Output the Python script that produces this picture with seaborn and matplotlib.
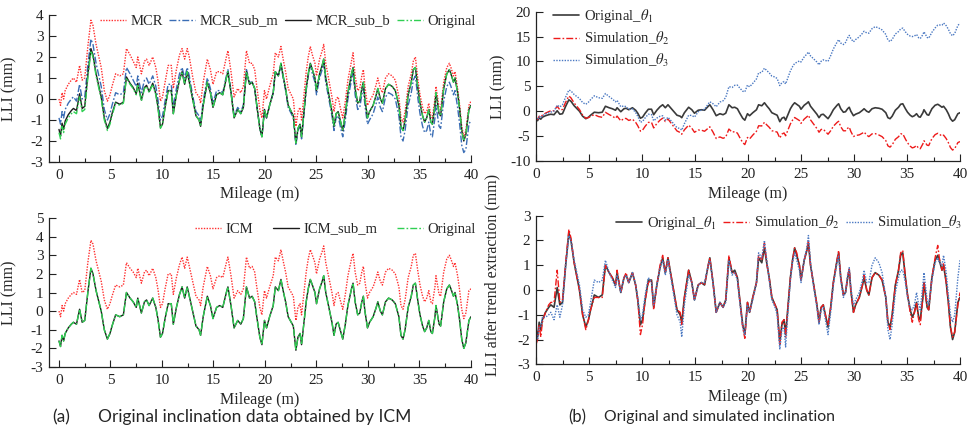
import matplotlib
matplotlib.use("Agg")
import matplotlib.pyplot as plt
from matplotlib.ticker import MultipleLocator
import pandas as pd
import seaborn as sns

# ---------------- data ----------------
mileage = [
    0.0, 0.15, 0.3, 0.45, 0.6, 0.9, 1.2, 1.4, 1.7, 2.0,
    2.25, 2.5, 2.8, 3.1, 3.3, 3.6, 4.1, 4.4, 4.7, 4.95,
    5.15, 5.5, 5.9, 6.25, 6.55, 6.9, 7.2, 7.5, 7.65, 8.0,
    8.3, 8.5, 8.75, 9.1, 9.4, 9.6, 9.85, 10.05, 10.3, 10.6,
    10.9, 11.1, 11.4, 11.7, 11.95, 12.2, 12.45, 12.65, 13.0, 13.3,
    13.6, 13.75, 14.0, 14.4, 14.7, 14.95, 15.3, 15.6, 15.9, 16.25,
    16.4, 16.7, 17.0, 17.35, 17.65, 17.9, 18.2, 18.5, 18.75, 19.0,
    19.2, 19.5, 19.7, 19.95, 20.15, 20.45, 20.8, 21.0, 21.3, 21.55,
    21.8, 22.0, 22.25, 22.55, 22.75, 23.0, 23.2, 23.4, 23.55, 23.75,
    24.0, 24.2, 24.4, 24.6, 24.85, 25.0, 25.3, 25.55, 25.7, 25.9,
    26.2, 26.5, 26.7, 26.9, 27.1, 27.35, 27.55, 27.8, 28.05, 28.4,
    28.55, 28.75, 29.0, 29.2, 29.4, 29.55, 29.7, 29.95, 30.15, 30.5,
    30.8, 30.95, 31.2, 31.4, 31.7, 32.0, 32.35, 32.65, 33.0, 33.2,
    33.4, 33.6, 33.9, 34.2, 34.4, 34.6, 34.85, 35.05, 35.3, 35.5,
    35.7, 35.9, 36.1, 36.25, 36.5, 36.6, 36.9, 37.05, 37.35, 37.65,
    37.9, 38.05, 38.3, 38.45, 38.7, 38.9, 39.1, 39.3, 39.5, 39.8,
    40.0]

# Original LLI (also ICM_sub_m and Original_theta1)
original = [
    -1.6, -1.9, -1.3, -1.6, -1.2, -0.9, -0.7, -0.6, -0.7, 0.1,
    -0.6, -0.5, 1.0, 2.3, 2.0, 1.1, 0.0, -1.0, -1.5, -1.2,
    -0.8, -0.2, -0.3, -0.2, 1.0, 0.7, 0.5, 0.2, 0.7, -0.1,
    0.5, 0.6, 0.3, 0.7, 0.2, -0.4, -1.4, -1.2, -0.4, 0.4,
    0.4, -0.7, 0.2, 0.9, 1.3, 0.7, 1.3, 0.8, -0.1, -0.8,
    -1.0, -1.3, -0.3, 0.8, 0.3, -0.4, 0.2, 0.3, 0.2, 1.0,
    1.3, 0.3, -0.9, -0.5, -0.7, -0.4, 1.3, 0.7, 0.8, 0.5,
    -0.3, -1.4, -1.8, -0.5, -0.9, -0.3, 0.3, 1.3, 1.1, 1.7,
    1.0, 0.5, -0.3, -0.6, -0.8, -2.1, -1.4, -1.2, -1.8, -0.8,
    0.5, 1.2, 1.7, 1.4, 1.0, 0.4, 1.2, 1.6, 1.9, 1.0,
    0.2, -0.6, -1.3, -0.7, -0.6, -1.1, -1.5, -0.7, 0.3, 1.2,
    1.5, 0.5, -0.2, -0.1, 0.5, 0.8, 0.0, -0.9, -0.6, -0.3,
    0.2, 0.5, 0.0, -0.2, 0.5, 0.7, 0.6, 0.4, -0.3, -1.3,
    -1.5, -1.0, 0.2, 0.8, 1.4, 1.5, 0.5, -0.2, -0.8, -1.1,
    -0.9, -0.5, -1.1, -1.2, -0.3, 0.3, -0.7, -0.8, 0.5, 1.2,
    1.4, 1.2, 0.8, 1.0, 0.3, -0.5, -1.5, -2.0, -1.7, -0.5,
    -0.3]

mcr = [
    0.0, -0.3, 0.3, 0.0, 0.4, 0.7, 0.9, 1.0, 0.8, 1.6,
    0.9, 1.0, 2.5, 3.75, 3.5, 2.6, 1.5, 0.4, -0.1, 0.2,
    0.6, 1.2, 1.1, 1.2, 2.4, 2.1, 1.8, 1.5, 2.0, 1.2,
    1.8, 1.9, 1.6, 2.0, 1.5, 0.9, -0.1, 0.1, 0.8, 1.6,
    1.6, 0.5, 1.4, 2.1, 2.4, 1.9, 2.4, 2.0, 1.0, 0.3,
    0.1, -0.2, 0.8, 1.9, 1.4, 0.7, 1.3, 1.3, 1.2, 2.0,
    2.3, 1.3, 0.1, 0.5, 0.3, 0.6, 2.3, 1.7, 1.7, 1.4,
    0.6, -0.5, -0.9, 0.4, 0.0, 0.6, 1.2, 2.2, 2.0, 2.5,
    1.8, 1.3, 0.5, 0.2, 0.0, -1.3, -0.6, -0.4, -1.0, 0.0,
    1.3, 2.0, 2.5, 2.1, 1.7, 1.1, 1.9, 2.3, 2.6, 1.7,
    0.9, 0.1, -0.6, 0.0, 0.1, -0.5, -0.9, -0.1, 0.9, 1.8,
    2.2, 1.1, 0.4, 0.5, 1.1, 1.4, 0.6, -0.3, -0.1, 0.2,
    0.7, 1.0, 0.5, 0.3, 1.0, 1.2, 1.1, 0.9, 0.1, -0.9,
    -1.1, -0.6, 0.6, 1.2, 1.8, 2.0, 0.9, 0.2, -0.4, -0.7,
    -0.6, -0.2, -0.8, -0.9, 0.0, 0.6, -0.4, -0.5, 0.8, 1.5,
    1.7, 1.5, 1.1, 1.3, 0.5, -0.3, -1.3, -1.8, -1.5, -0.3,
    -0.1]

mcr_sub_m = [
    -0.9, -1.2, -0.6, -0.9, -0.5, -0.2, 0.0, 0.1, -0.1, 0.7,
    0.0, 0.1, 1.6, 2.85, 2.6, 1.7, 0.6, -0.5, -1.0, -0.7,
    -0.3, 0.3, 0.2, 0.3, 1.5, 1.2, 0.9, 0.6, 1.1, 0.3,
    0.9, 1.0, 0.7, 1.1, 0.6, 0.0, -1.0, -0.8, -0.1, 0.7,
    0.7, -0.4, 0.5, 1.2, 1.5, 1.0, 1.5, 1.1, 0.1, -0.6,
    -0.8, -1.1, -0.1, 1.0, 0.5, -0.2, 0.4, 0.4, 0.3, 1.1,
    1.4, 0.4, -0.8, -0.4, -0.6, -0.3, 1.4, 0.8, 0.8, 0.5,
    -0.3, -1.4, -1.8, -0.5, -0.9, -0.3, 0.3, 1.3, 1.1, 1.6,
    0.9, 0.4, -0.4, -0.7, -0.9, -2.2, -1.5, -1.3, -1.9, -0.9,
    0.4, 1.1, 1.6, 1.2, 0.8, 0.2, 1.0, 1.4, 1.7, 0.8,
    0.0, -0.8, -1.5, -0.9, -0.8, -1.4, -1.8, -1.0, 0.0, 0.9,
    1.3, 0.2, -0.5, -0.4, 0.2, 0.5, -0.3, -1.2, -1.0, -0.7,
    -0.2, 0.1, -0.4, -0.6, 0.1, 0.3, 0.2, 0.0, -0.8, -1.8,
    -2.0, -1.5, -0.3, 0.3, 0.9, 1.1, 0.0, -0.7, -1.3, -1.6,
    -1.5, -1.1, -1.7, -1.8, -0.9, -0.3, -1.3, -1.4, -0.1, 0.6,
    0.8, 0.6, 0.2, 0.4, -0.4, -1.2, -2.2, -2.55, -2.4, -1.2,
    -1.0]

mcr_sub_b = [
    -1.45, -1.75, -1.15, -1.45, -1.05, -0.75, -0.55, -0.45, -0.55, 0.25,
    -0.45, -0.35, 1.15, 2.4, 2.1, 1.2, 0.1, -0.9, -1.4, -1.1,
    -0.7, -0.15, -0.25, -0.15, 1.05, 0.75, 0.55, 0.25, 0.75, -0.05,
    0.55, 0.65, 0.35, 0.75, 0.25, -0.35, -1.35, -1.2, -0.4, 0.4,
    0.4, -0.7, 0.2, 0.9, 1.3, 0.7, 1.3, 0.8, -0.1, -0.8,
    -1.0, -1.3, -0.3, 0.8, 0.3, -0.4, 0.2, 0.3, 0.2, 1.0,
    1.3, 0.3, -0.9, -0.5, -0.7, -0.4, 1.3, 0.7, 0.8, 0.5,
    -0.3, -1.4, -1.8, -0.5, -0.9, -0.3, 0.3, 1.3, 1.1, 1.7,
    1.0, 0.5, -0.3, -0.6, -0.8, -2.1, -1.4, -1.2, -1.8, -0.8,
    0.5, 1.2, 1.7, 1.4, 1.0, 0.4, 1.2, 1.6, 1.9, 1.0,
    0.2, -0.6, -1.3, -0.7, -0.6, -1.1, -1.5, -0.7, 0.3, 1.2,
    1.5, 0.5, -0.2, -0.1, 0.5, 0.8, 0.0, -0.9, -0.6, -0.3,
    0.2, 0.5, 0.0, -0.2, 0.5, 0.7, 0.6, 0.4, -0.3, -1.3,
    -1.5, -1.0, 0.2, 0.8, 1.4, 1.5, 0.5, -0.2, -0.8, -1.1,
    -0.9, -0.5, -1.1, -1.2, -0.3, 0.3, -0.7, -0.8, 0.5, 1.2,
    1.4, 1.2, 0.8, 1.0, 0.3, -0.5, -1.5, -2.0, -1.7, -0.5,
    -0.3]

icm = [
    0.0, -0.3, 0.3, 0.0, 0.4, 0.7, 0.9, 1.0, 0.9, 1.7,
    1.0, 1.1, 2.6, 3.8, 3.6, 2.7, 1.6, 0.6, 0.1, 0.4,
    0.8, 1.4, 1.3, 1.4, 2.6, 2.3, 2.1, 1.8, 2.3, 1.5,
    2.1, 2.2, 1.9, 2.3, 1.8, 1.2, 0.2, 0.4, 1.2, 2.0,
    2.0, 0.9, 1.8, 2.5, 2.9, 2.3, 2.9, 2.4, 1.5, 0.8,
    0.6, 0.3, 1.3, 2.4, 1.9, 1.2, 1.8, 1.9, 1.8, 2.6,
    2.9, 1.9, 0.7, 1.1, 0.9, 1.2, 2.9, 2.3, 2.4, 2.1,
    1.3, 0.2, -0.2, 1.1, 0.7, 1.3, 1.9, 2.9, 2.7, 3.3,
    2.6, 2.1, 1.3, 1.0, 0.8, -0.5, 0.2, 0.4, -0.2, 0.8,
    2.1, 2.8, 3.3, 3.0, 2.6, 2.0, 2.8, 3.2, 3.5, 2.6,
    1.8, 1.0, 0.3, 0.9, 1.0, 0.5, 0.1, 0.9, 1.9, 2.8,
    3.1, 2.1, 1.4, 1.5, 2.1, 2.4, 1.6, 0.7, 1.0, 1.3,
    1.8, 2.1, 1.6, 1.4, 2.1, 2.3, 2.2, 2.0, 1.3, 0.3,
    0.1, 0.6, 1.8, 2.4, 3.0, 3.1, 2.1, 1.4, 0.8, 0.5,
    0.7, 1.1, 0.5, 0.4, 1.3, 1.9, 0.9, 0.8, 2.1, 2.8,
    3.0, 2.8, 2.4, 2.6, 1.9, 1.1, 0.1, -0.4, -0.1, 1.1,
    1.2]

sim_theta2 = [
    -1.4, -1.65, -1.0, -1.24, -0.79, -0.38, -0.08, 0.09, 0.1, 1.0,
    0.28, 0.35, 1.82, 3.06, 2.68, 1.65, 0.35, -0.78, -1.4, -1.28,
    -1.02, -0.68, -1.07, -1.22, -0.22, -0.67, -0.99, -1.42, -0.98, -1.94,
    -1.46, -1.45, -1.85, -1.6, -2.23, -2.92, -4.0, -3.81, -3.02, -2.24,
    -2.25, -3.36, -2.47, -1.79, -1.4, -2.07, -1.56, -2.13, -3.15, -3.96,
    -4.27, -4.62, -3.73, -2.8, -3.42, -4.23, -3.78, -3.8, -4.03, -3.38,
    -3.13, -4.2, -5.48, -5.16, -5.44, -5.2, -3.58, -4.2, -4.1, -4.4,
    -5.2, -6.3, -6.7, -5.27, -5.56, -4.8, -4.02, -2.92, -2.96, -2.23,
    -2.81, -3.22, -3.91, -4.08, -4.19, -5.39, -4.6, -4.36, -4.93, -3.89,
    -2.54, -1.8, -1.26, -1.52, -1.87, -2.44, -1.58, -1.13, -0.8, -1.74,
    -2.61, -3.48, -4.22, -3.66, -3.61, -4.17, -4.62, -3.92, -3.02, -2.26,
    -2.02, -3.12, -3.93, -3.93, -3.42, -3.19, -4.06, -5.08, -4.88, -4.75,
    -4.4, -4.18, -4.8, -5.1, -4.55, -4.5, -4.78, -5.11, -5.9, -6.96,
    -7.21, -6.76, -5.64, -5.12, -4.57, -4.53, -5.59, -6.35, -7.01, -7.37,
    -7.22, -6.87, -7.47, -7.53, -6.55, -5.92, -6.83, -6.89, -5.5, -4.71,
    -4.43, -4.6, -5.0, -4.8, -5.5, -6.3, -7.3, -7.8, -7.5, -6.3,
    -6.1]

sim_theta3 = [
    -1.4, -1.68, -1.05, -1.33, -0.9, -0.55, -0.3, -0.17, 0.02, 1.22,
    0.86, 1.3, 2.86, 4.26, 4.08, 3.36, 2.56, 1.74, 1.4, 1.83,
    2.33, 3.1, 2.72, 2.58, 3.56, 2.94, 2.47, 1.9, 2.19, 0.9,
    1.08, 0.9, 0.39, 0.49, -0.26, -1.03, -2.21, -2.06, -1.32, -0.6,
    -0.68, -1.92, -1.37, -1.02, -0.91, -1.8, -1.2, -1.7, -2.6, -3.3,
    -3.5, -3.8, -2.5, -0.8, -0.85, -1.18, -0.12, 0.23, 0.38, 1.48,
    1.9, 1.5, 0.9, 1.84, 2.1, 2.78, 4.95, 4.77, 5.21, 5.25,
    4.72, 4.03, 3.9, 5.26, 4.91, 5.59, 6.5, 7.7, 7.8, 8.65,
    8.11, 7.72, 7.06, 6.88, 6.57, 5.15, 5.75, 5.97, 5.48, 6.63,
    8.11, 8.95, 9.6, 9.83, 10.1, 9.9, 10.91, 11.49, 11.9, 11.12,
    10.51, 9.89, 9.32, 10.04, 10.33, 10.17, 10.03, 11.17, 12.5, 13.87,
    14.38, 13.7, 13.4, 13.82, 14.74, 15.25, 14.6, 13.95, 14.4, 14.95,
    15.66, 16.07, 15.74, 15.68, 16.59, 17.0, 16.7, 16.33, 15.43, 14.31,
    14.0, 14.43, 15.52, 16.01, 16.54, 16.7, 15.95, 15.45, 15.1, 15.0,
    15.12, 15.44, 14.76, 14.6, 15.4, 15.96, 14.84, 14.68, 15.86, 16.73,
    17.3, 17.33, 17.3, 17.73, 17.19, 16.48, 15.57, 15.16, 15.63, 17.23,
    17.7]

sim_theta2_detrended = [
    -2.2, -2.0, -1.4, -1.9, -1.3, -0.9, -0.6, -0.5, -0.5, 0.8,
    -0.5, -0.4, 1.1, 2.45, 2.1, 1.1, 0.0, -1.0, -1.6, -1.2,
    -0.8, -0.3, -0.3, -0.3, 1.0, 0.7, 0.5, 0.2, 0.8, -0.1,
    0.5, 0.7, 0.3, 0.7, 0.2, -0.4, -1.8, -1.4, -0.4, 0.3,
    0.4, -0.8, 0.2, 1.0, 1.4, 0.7, 1.3, 0.8, -0.1, -0.8,
    -0.9, -1.4, -0.3, 0.8, 0.3, -0.4, 0.2, 0.3, 0.2, 1.0,
    1.3, 0.3, -0.9, -0.5, -0.7, -0.4, 1.4, 0.7, 0.7, 0.5,
    -0.3, -1.5, -1.95, -0.5, -0.9, -0.3, 0.3, 1.4, 1.2, 1.9,
    1.0, 0.5, -0.3, -0.6, -0.8, -2.2, -1.3, -1.2, -1.9, -0.8,
    0.5, 1.2, 1.7, 1.5, 1.0, 0.4, 1.2, 1.6, 2.0, 1.0,
    0.2, -0.6, -1.3, -0.7, -0.6, -1.1, -1.4, -0.7, 0.3, 1.2,
    1.6, 0.5, -0.2, -0.1, 0.5, 0.9, 0.0, -0.9, -0.6, -0.3,
    0.2, 0.6, 0.0, -0.2, 0.5, 0.7, 0.6, 0.4, -0.3, -1.3,
    -1.6, -1.0, 0.2, 0.8, 1.5, 1.6, 0.5, -0.2, -0.9, -1.3,
    -0.9, -0.5, -1.2, -1.4, -0.3, 0.3, -0.7, -0.8, 0.5, 1.3,
    1.8, 1.3, 0.8, 1.1, 0.3, -0.5, -1.5, -1.9, -1.7, -0.6,
    -0.1]

sim_theta3_detrended = [
    -1.8, -2.0, -1.5, -1.5, -1.1, -1.1, -1.0, -0.9, -1.2, -0.6,
    -1.1, -0.6, 1.0, 2.2, 2.0, 1.2, 0.2, -0.8, -1.1, -1.0,
    -0.5, 0.4, 0.3, 0.4, 1.2, 0.7, 0.4, 0.1, 0.6, -0.1,
    0.5, 0.6, 0.3, 0.7, 0.2, -0.3, -1.2, -1.0, -0.2, 0.5,
    0.3, -0.6, 0.2, 0.9, 1.2, 0.6, 1.2, 0.7, -0.2, -1.0,
    -1.3, -1.9, -0.6, 0.6, 0.3, -0.4, 0.2, 0.3, 0.3, 1.0,
    1.2, 0.3, -0.9, -0.5, -0.7, -0.5, 1.2, 0.6, 0.7, 0.4,
    -0.4, -1.5, -1.8, -0.6, -0.9, -0.4, 0.3, 1.5, 1.3, 2.0,
    1.1, 0.4, -0.4, -0.7, -1.0, -2.4, -1.6, -1.5, -2.3, -1.0,
    0.4, 1.1, 1.5, 1.2, 0.8, 0.3, 1.2, 1.7, 2.2, 1.1,
    0.1, -0.7, -1.4, -0.8, -0.7, -1.3, -1.8, -0.9, 0.2, 1.1,
    1.4, 0.4, -0.3, -0.1, 0.6, 0.9, 0.1, -0.6, -0.4, -0.1,
    0.4, 0.8, 0.3, 0.3, 1.0, 1.3, 1.1, 0.7, -0.3, -1.6,
    -2.0, -1.4, -0.1, 0.5, 0.8, 0.8, 0.3, -0.3, -0.7, -0.8,
    -0.6, -0.1, -0.6, -0.8, 0.2, 0.7, -0.4, -0.6, 0.4, 1.1,
    1.3, 1.1, 1.0, 1.4, 0.7, -0.2, -1.0, -1.3, -1.0, 0.5,
    1.2]

for arr in (original, mcr, mcr_sub_m, mcr_sub_b, icm, sim_theta2, sim_theta3,
            sim_theta2_detrended, sim_theta3_detrended):
    assert len(arr) == len(mileage), len(arr)

df = pd.DataFrame({
    "Mileage": mileage, "Original": original, "MCR": mcr,
    "MCR_sub_m": mcr_sub_m, "MCR_sub_b": mcr_sub_b, "ICM": icm,
    "ICM_sub_m": original, "theta1": original, "theta2": sim_theta2,
    "theta3": sim_theta3, "theta2_d": sim_theta2_detrended,
    "theta3_d": sim_theta3_detrended,
})

# ---------------- style ----------------
sns.set_style("ticks")
plt.rcParams["font.family"] = ["Liberation Serif", "DejaVu Serif"]
plt.rcParams["mathtext.fontset"] = "stix"
plt.rcParams["axes.unicode_minus"] = False
plt.rcParams["axes.edgecolor"] = "#222222"
plt.rcParams["xtick.color"] = "#222222"
plt.rcParams["ytick.color"] = "#222222"

RED = "#ff3030"
BLUE = "#3a6db5"
BLACK = "#1c1c1c"
GREEN = "#2fcf52"
GRAY = "#3a3a3a"
RED2 = "#ee1a1a"
BLUE2 = "#4a78c2"

W, H = 972, 433
fig = plt.figure(figsize=(W / 100, H / 100), dpi=100)


def add_ax(l, t, r, b):
    return fig.add_axes([l / W, 1 - b / H, (r - l) / W, (b - t) / H])


def style(ax, xlim, ylim, ymajor, ylab, ylab_x, ylab_y=0.5):
    ax.set_xlim(*xlim)
    ax.set_ylim(*ylim)
    ax.xaxis.set_major_locator(MultipleLocator(5))
    ax.xaxis.set_minor_locator(MultipleLocator(2.5))
    ax.yaxis.set_major_locator(MultipleLocator(ymajor))
    ax.tick_params(axis="x", which="major", direction="in", length=5, width=0.8,
                   labelsize=11, pad=5)
    ax.tick_params(axis="x", which="minor", direction="in", length=3, width=0.8)
    ax.tick_params(axis="y", which="major", direction="in", length=5, width=0.8,
                   labelsize=11, pad=4)
    for s in ("top", "right"):
        ax.spines[s].set_visible(False)
    for s in ("left", "bottom"):
        ax.spines[s].set_linewidth(0.9)
    ax.set_xlabel("Mileage (m)", fontsize=11.5)
    ax.xaxis.set_label_coords(0.5, -0.165)
    ax.set_ylabel(ylab, fontsize=11.5)
    ax.yaxis.set_label_coords(ylab_x, ylab_y)


def line(ax, col, color, ls, label, lw=1.0):
    sns.lineplot(data=df, x="Mileage", y=col, ax=ax, color=color, linestyle=ls,
                 linewidth=lw, label=label, estimator=None, sort=False)


DOT = (0, (1, 1))
DASHDOT = (0, (5, 1.5, 1.2, 1.5))
DASHDOTDOT = (0, (5, 1.5, 1.2, 1.5, 1.2, 1.5))

# ---- top-left ----
ax1 = add_ax(49, 15, 471, 162)
line(ax1, "MCR", RED, DOT, "MCR")
line(ax1, "MCR_sub_m", BLUE, DASHDOT, "MCR_sub_m")
line(ax1, "MCR_sub_b", BLACK, "-", "MCR_sub_b")
line(ax1, "Original", GREEN, DASHDOTDOT, "Original")
style(ax1, (-0.97, 40), (-3, 4), 1, "LLI (mm)", -0.076)
ax1.legend(loc="center right", bbox_to_anchor=(476 / W, 1 - 21 / H),
           bbox_transform=fig.transFigure, ncol=4, frameon=False, fontsize=10.5,
           handlelength=1.8, handletextpad=0.3, columnspacing=0.45,
           borderaxespad=0, borderpad=0)

# ---- bottom-left ----
ax2 = add_ax(49, 218, 471, 367)
line(ax2, "ICM", RED, DOT, "ICM")
line(ax2, "ICM_sub_m", BLACK, "-", "ICM_sub_m")
line(ax2, "Original", GREEN, DASHDOT, "Original")
style(ax2, (-0.97, 40), (-3, 5), 1, "LLI (mm)", -0.076)
ax2.legend(loc="center right", bbox_to_anchor=(476 / W, 1 - 229 / H),
           bbox_transform=fig.transFigure, ncol=3, frameon=False, fontsize=10.5,
           handlelength=1.8, handletextpad=0.3, columnspacing=1.35,
           borderaxespad=0, borderpad=0)

# ---- top-right ----
ax3 = add_ax(536, 11.7, 960, 161)
line(ax3, "theta1", GRAY, "-", r"Original_$\theta_1$", lw=1.2)
line(ax3, "theta2", RED2, DASHDOT, r"Simulation_$\theta_2$")
line(ax3, "theta3", BLUE2, DOT, r"Simulation_$\theta_3$")
style(ax3, (0, 40), (-10, 20), 5, "LLI (mm)", -0.071)
ax3.legend(loc="upper left", bbox_to_anchor=(553 / W, 1 - 7 / H),
           bbox_transform=fig.transFigure, ncol=1, frameon=False, fontsize=10.5,
           handlelength=1.8, handletextpad=0.3, labelspacing=0.35,
           borderaxespad=0, borderpad=0)

# ---- bottom-right ----
ax4 = add_ax(536, 215.7, 960, 364.3)
line(ax4, "theta1", GRAY, "-", r"Original_$\theta_1$", lw=1.2)
line(ax4, "theta2_d", RED2, DASHDOT, r"Simulation_$\theta_2$")
line(ax4, "theta3_d", BLUE2, DOT, r"Simulation_$\theta_3$")
style(ax4, (0, 40), (-3, 3), 1, "LLI after trend extraction (mm)", -0.083, 0.6)
ax4.legend(loc="center right", bbox_to_anchor=(962 / W, 1 - 223 / H),
           bbox_transform=fig.transFigure, ncol=3, frameon=False, fontsize=10.5,
           handlelength=1.8, handletextpad=0.3, columnspacing=0.5,
           borderaxespad=0, borderpad=0)

# ---- captions ----
cap_font = ["Lato", "DejaVu Sans"]
cap_y = 1 - 417 / H
fig.text(52 / W, cap_y, "(a)", ha="left", va="center", fontsize=12.5, family=cap_font)
fig.text(98 / W, cap_y, "Original inclination data obtained by ICM",
         ha="left", va="center", fontsize=12.5, family=cap_font)
fig.text(568 / W, cap_y, "(b)", ha="left", va="center", fontsize=12, family=cap_font)
fig.text(604 / W, cap_y, "Original and simulated inclination",
         ha="left", va="center", fontsize=11.3, family=cap_font)

fig.savefig("out.png", dpi=100)
